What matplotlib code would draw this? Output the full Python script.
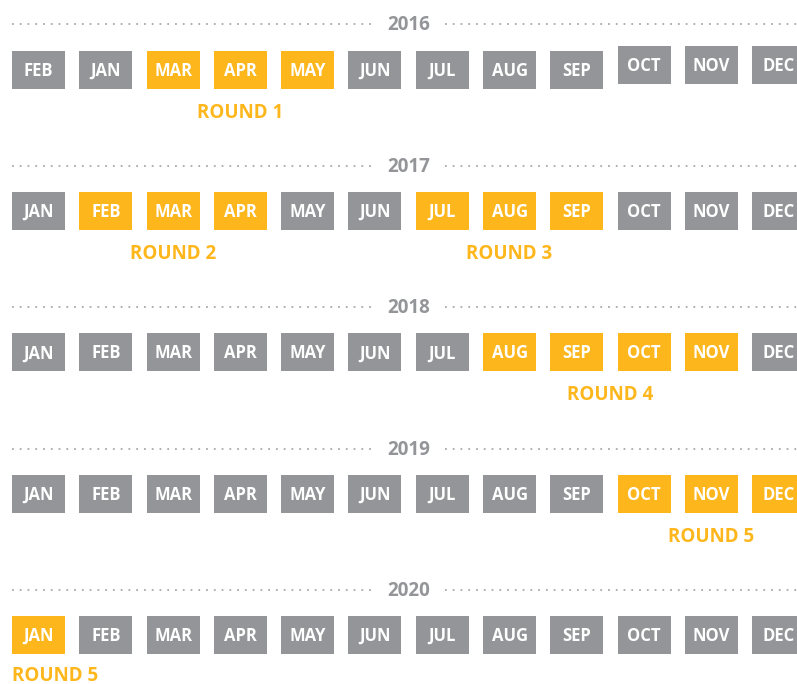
import matplotlib.pyplot as plt
from matplotlib.patches import Rectangle

plt.rcParams['font.family'] = ['Open Sans', 'DejaVu Sans']

GRAY = "#939598"
ORANGE = "#fdb71d"
DOT = "#a7a9ac"

years = ["2016", "2017", "2018", "2019", "2020"]
months = ["JAN", "FEB", "MAR", "APR", "MAY", "JUN", "JUL", "AUG", "SEP", "OCT", "NOV", "DEC"]
months_2016 = ["FEB", "JAN", "MAR", "APR", "MAY", "JUN", "JUL", "AUG", "SEP", "OCT", "NOV", "DEC"]
row_months = [months_2016, months, months, months, months]

# highlighted month indices per year
highlights = [[2, 3, 4], [1, 2, 3, 6, 7, 8], [7, 8, 9, 10], [9, 10, 11], [0]]

# round labels: (year index, first box, last box, text)
rounds = [
    (0, 2, 4, "ROUND 1"),
    (1, 1, 3, "ROUND 2"),
    (1, 6, 8, "ROUND 3"),
    (2, 7, 10, "ROUND 4"),
    (3, 9, 11, "ROUND 5"),
    (4, 0, 0, "ROUND 5"),
]

# layout (pixels)
x0, step, bw, bh = 12, 67.3, 53, 38
top0, row_step = 51, 141.2

fig = plt.figure(figsize=(7.97, 6.84), dpi=100)
ax = fig.add_axes([0, 0, 1, 1])
ax.set_xlim(0, 797)
ax.set_ylim(684, 0)
ax.axis("off")

for r, year in enumerate(years):
    ytop = top0 + r * row_step
    yb = ytop - 20 if r else ytop - 21
    ax.text(409, yb, year, ha="center", va="baseline", fontsize=13.5,
            fontweight="bold", color=GRAY)
    ax.plot([12, 375], [yb - 6, yb - 6], color=DOT, lw=1.3, ls=(0, (1, 3.3)))
    ax.plot([445, 797], [yb - 6, yb - 6], color=DOT, lw=1.3, ls=(0, (1, 3.3)))
    for i, m in enumerate(row_months[r]):
        yt = ytop
        if r == 0 and i >= 9:
            yt = ytop - 5
        x = x0 + i * step
        c = ORANGE if i in highlights[r] else GRAY
        ax.add_patch(Rectangle((x, yt), bw, bh, facecolor=c, edgecolor="none"))
        ax.text(x + bw / 2, yt + 25, m, ha="center", va="baseline",
                fontsize=12, fontweight="bold", color="white")

for r, a, b, label in rounds:
    y = top0 + r * row_step + 67
    if r == len(years) - 1:
        ax.text(x0, y - 2, label, ha="left", va="baseline", fontsize=13.5,
                fontweight="bold", color=ORANGE)
    else:
        xc = x0 + (a + b) / 2 * step + bw / 2
        ax.text(xc, y, label, ha="center", va="baseline", fontsize=13.5,
                fontweight="bold", color=ORANGE)

fig.savefig("out.png", dpi=100)
